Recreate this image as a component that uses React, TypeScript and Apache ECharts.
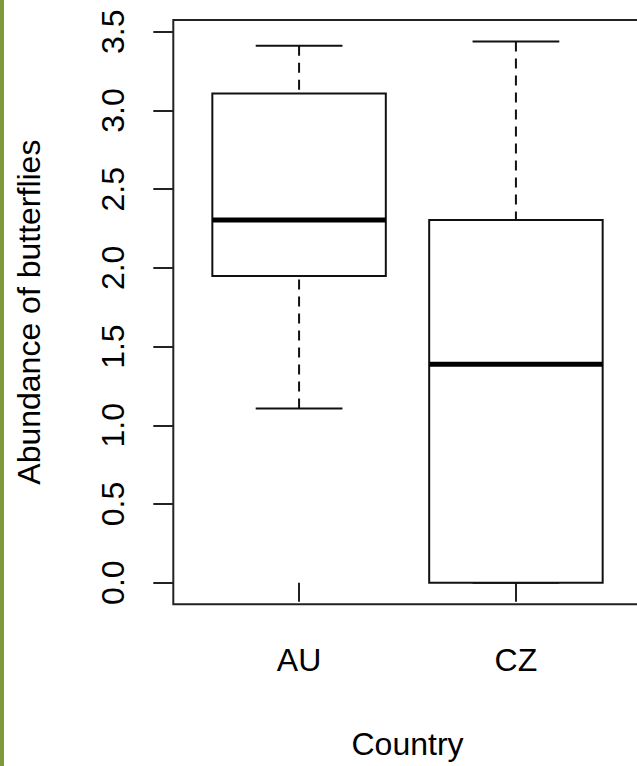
import React, { useEffect, useRef } from "react";
import * as echarts from "echarts";

const categories = ["AU", "CZ"];
const lowerWhisker = [1.107, 0];
const lowerQuartile = [1.948, 0];
const medians = [2.305, 1.388];
const upperQuartile = [3.108, 2.305];
const upperWhisker = [3.412, 3.438];
const yTicks = [0, 0.5, 1, 1.5, 2, 2.5, 3, 3.5];
const yTickLabels = ["0.0", "0.5", "1.0", "1.5", "2.0", "2.5", "3.0", "3.5"];
const xTicks = [1, 2];

export default function App() {
  const ref = useRef<HTMLDivElement>(null);
  useEffect(() => {
    if (!ref.current) return;
    const chart = echarts.init(ref.current, undefined, { renderer: "svg" });
    const data = categories.map((c, i) => [
      i + 1,
      lowerWhisker[i],
      lowerQuartile[i],
      medians[i],
      upperQuartile[i],
      upperWhisker[i],
    ]);
    const ink = "#111";
    const font = "'Liberation Sans', Arial, sans-serif";
    chart.setOption({
      animation: false,
      backgroundColor: "#fff",
      grid: {
        left: 173.3,
        top: 20,
        width: 468.4,
        height: 584.3,
        show: true,
        borderColor: "#222",
        borderWidth: 2,
        backgroundColor: "transparent",
      },
      xAxis: {
        type: "value",
        min: 0.42,
        max: 2.58,
        name: "Country",
        nameLocation: "middle",
        nameGap: 124,
        nameTextStyle: { fontSize: 32, color: "#000", fontFamily: font },
        axisLine: { show: false },
        splitLine: { show: false },
        axisTick: {
          show: true,
          customValues: xTicks,
          length: 19,
          lineStyle: { color: "#222", width: 2 },
        },
        axisLabel: {
          customValues: xTicks,
          margin: 40,
          fontSize: 32,
          color: "#000",
          fontFamily: font,
          formatter: (v: number) => categories[Math.round(v) - 1] ?? "",
        },
      },
      yAxis: {
        type: "value",
        min: -0.1375,
        max: 3.575,
        name: "Abundance of butterflies",
        nameLocation: "middle",
        nameRotate: 90,
        nameGap: 128,
        nameTextStyle: { fontSize: 32, color: "#000", fontFamily: font },
        axisLine: { show: false },
        splitLine: { show: false },
        axisTick: {
          show: true,
          customValues: yTicks,
          length: 20,
          lineStyle: { color: "#222", width: 2 },
        },
        axisLabel: {
          customValues: yTicks,
          rotate: 90,
          margin: 44,
          fontSize: 32,
          color: "#000",
          fontFamily: font,
          formatter: (v: number) => {
            const idx = yTicks.findIndex((t) => Math.abs(t - v) < 1e-6);
            return idx >= 0 ? yTickLabels[idx] : "";
          },
        },
      },
      graphic: [
        {
          type: "rect",
          left: 0,
          top: 0,
          shape: { x: 0, y: 0, width: 4, height: 766 },
          style: { fill: "#7c993d" },
          z: 100,
        },
      ],
      series: [
        {
          type: "custom",
          clip: false,
          data,
          renderItem: (params: any, api: any) => {
            const x = api.value(0);
            const lo = api.coord([x, api.value(1)]);
            const q1 = api.coord([x, api.value(2)]);
            const md = api.coord([x, api.value(3)]);
            const q3 = api.coord([x, api.value(4)]);
            const hi = api.coord([x, api.value(5)]);
            const halfW = api.size([0.8, 0])[0] / 2;
            const capHalf = api.size([0.4, 0])[0] / 2;
            const cx = lo[0];
            const solid = { stroke: ink, lineWidth: 2, fill: "none" };
            const dashed = { stroke: ink, lineWidth: 2, lineDash: [10, 7] };
            return {
              type: "group",
              children: [
                {
                  type: "line",
                  shape: { x1: cx, y1: hi[1], x2: cx, y2: q3[1] },
                  style: dashed,
                },
                {
                  type: "line",
                  shape: { x1: cx, y1: lo[1], x2: cx, y2: q1[1] },
                  style: dashed,
                },
                {
                  type: "line",
                  shape: { x1: cx - capHalf, y1: hi[1], x2: cx + capHalf, y2: hi[1] },
                  style: solid,
                },
                {
                  type: "line",
                  shape: { x1: cx - capHalf, y1: lo[1], x2: cx + capHalf, y2: lo[1] },
                  style: solid,
                },
                {
                  type: "rect",
                  shape: { x: cx - halfW, y: q3[1], width: halfW * 2, height: q1[1] - q3[1] },
                  style: { stroke: ink, lineWidth: 2, fill: "#fff" },
                },
                {
                  type: "line",
                  shape: { x1: cx - halfW, y1: md[1], x2: cx + halfW, y2: md[1] },
                  style: { stroke: "#000", lineWidth: 5 },
                },
              ],
            };
          },
        },
      ],
    });
    return () => chart.dispose();
  }, []);
  return (
    <div
      ref={ref}
      style={{ position: "fixed", left: 0, top: 0, width: 660, height: 766 }}
    />
  );
}
